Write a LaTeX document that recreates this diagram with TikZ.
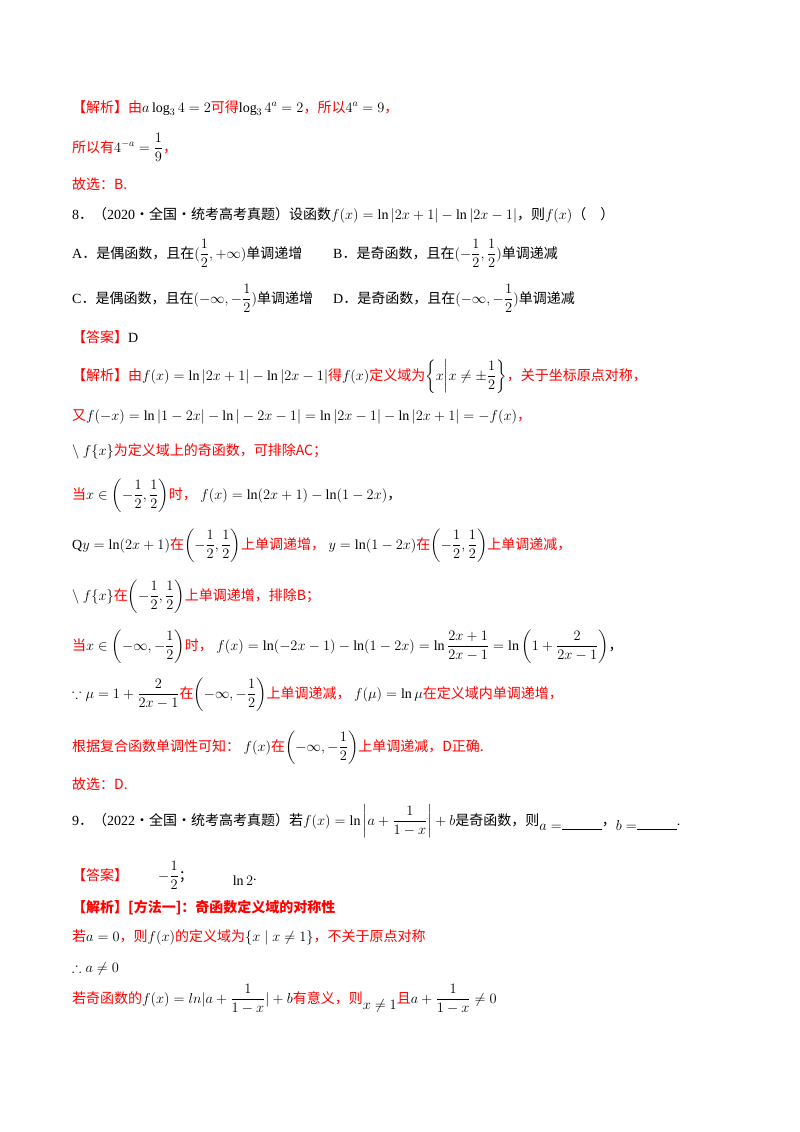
\documentclass[tikz,border=0pt]{standalone}
\usepackage{amsmath,amssymb}
\usepackage{fontspec}
\setmainfont{Liberation Serif}
\newfontfamily\cjk{Noto Sans CJK SC}
\definecolor{rd}{RGB}{255,0,0}
\newcommand{\R}[1]{{\cjk\color{rd}#1}}
\newcommand{\K}[1]{{\cjk #1}}
\tikzset{ln/.style={anchor=base west,inner sep=0pt,font=\fontsize{14}{16}\selectfont}}
\begin{document}
\begin{tikzpicture}[x=1pt,y=-1pt]
\useasboundingbox (0,0) rectangle (800,1132);
\node[ln] (l1) at (72,112) {\R{【解析】由}$a\log_3 4=2$\R{可得}$\log_3 4^a=2$\R{，所以}$4^a=9$\R{，}};
\node[ln] (l2) at (72,152) {\R{所以有}$4^{-a}=\dfrac19$\R{，}};
\node[ln] (l3) at (72,189) {\R{故选：B.}};
\node[ln] (l4) at (72,219) {8\K{．（}2020\K{·全国·统考高考真题）设函数}$f(x)=\ln|2x+1|-\ln|2x-1|$\K{，则}$f(x)$\K{（\quad ）}};
\node[ln] (a) at (72,258) {A\K{．是偶函数，且在}$(\dfrac12,+\infty)$\K{单调递增}};
\node[ln] (b) at (333,258) {B\K{．是奇函数，且在}$(-\dfrac12,\dfrac12)$\K{单调递减}};
\node[ln] (c) at (72,303) {C\K{．是偶函数，且在}$(-\infty,-\dfrac12)$\K{单调递增}};
\node[ln] (d) at (333,303) {D\K{．是奇函数，且在}$(-\infty,-\dfrac12)$\K{单调递减}};
\node[ln] (l5) at (72,342) {\R{【答案】}D};
\node[ln] (l6) at (72,380) {\R{【解析】由}$f(x)=\ln\left|2x+1\right|-\ln\left|2x-1\right|$\R{得}$f(x)$\R{定义域为}$\left\{x\middle|x\neq\pm\dfrac12\right\}$\R{，关于坐标原点对称，}};
\node[ln] (l7) at (72,420) {\R{又}$f(-x)=\ln|1-2x|-\ln|-2x-1|=\ln|2x-1|-\ln|2x+1|=-f(x)$\R{，}};
\node[ln] (l8) at (72,455) {$\backslash\ f\{x\}$\R{为定义域上的奇函数，可排除AC；}};
\node[ln] (l9) at (72,499) {\R{当}$x\in\left(-\dfrac12,\dfrac12\right)$\R{时，}\ $f(x)=\ln(2x+1)-\ln(1-2x)$\K{，}};
\node[ln] (l10) at (72,549) {Q$y=\ln(2x+1)$\R{在}$\left(-\dfrac12,\dfrac12\right)$\R{上单调递增，}\ $y=\ln(1-2x)$\R{在}$\left(-\dfrac12,\dfrac12\right)$\R{上单调递减，}};
\node[ln] (l11) at (72,600) {$\backslash\ f\{x\}$\R{在}$\left(-\dfrac12,\dfrac12\right)$\R{上单调递增，排除B；}};
\node[ln] (l12) at (72,650) {\R{当}$x\in\left(-\infty,-\dfrac12\right)$\R{时，}\ $f(x)=\ln(-2x-1)-\ln(1-2x)=\ln\dfrac{2x+1}{2x-1}=\ln\left(1+\dfrac{2}{2x-1}\right)$\K{，}};
\node[ln] (l13) at (72,698) {$\because\mu=1+\dfrac{2}{2x-1}$\R{在}$\left(-\infty,-\dfrac12\right)$\R{上单调递减，}\ $f(\mu)=\ln\mu$\R{在定义域内单调递增，}};
\node[ln] (l14) at (72,751) {\R{根据复合函数单调性可知：}\ $f(x)$\R{在}$\left(-\infty,-\dfrac12\right)$\R{上单调递减，D正确.}};
\node[ln] (l15) at (72,789) {\R{故选：D.}};
\node[ln] (l16) at (72,825) {9\K{．（}2022\K{·全国·统考高考真题）若}$f(x)=\ln\left|a+\dfrac{1}{1-x}\right|+b$\K{是奇函数，则}\raisebox{-5pt}{$a=$\rule{40pt}{0.6pt}}\K{，}\raisebox{-5pt}{$b=$\rule{40pt}{0.6pt}}.};
\node[ln] (l17) at (72,880) {\R{【答案】}\hspace{30pt}$-\dfrac12$\K{；}\hspace{40pt}\raisebox{-5pt}{$\ln 2$}.};
\node[ln] (l18) at (72,912) {\R{\bfseries 【解析】[方法一]：奇函数定义域的对称性}};
\node[ln] (l19) at (72,941) {\R{若}$a=0$\R{，则}$f(x)$\R{的定义域为}$\{x\mid x\neq1\}$\R{，不关于原点对称}};
\node[ln] (l20) at (72,972) {$\therefore a\neq0$};
\node[ln] (l21) at (72,1003) {\R{若奇函数的}$f(x)=ln|a+\dfrac{1}{1-x}|+b$\R{有意义，则}\raisebox{-6pt}{$x\neq1$}\R{且}$a+\dfrac{1}{1-x}\neq0$};
\end{tikzpicture}
\end{document}
